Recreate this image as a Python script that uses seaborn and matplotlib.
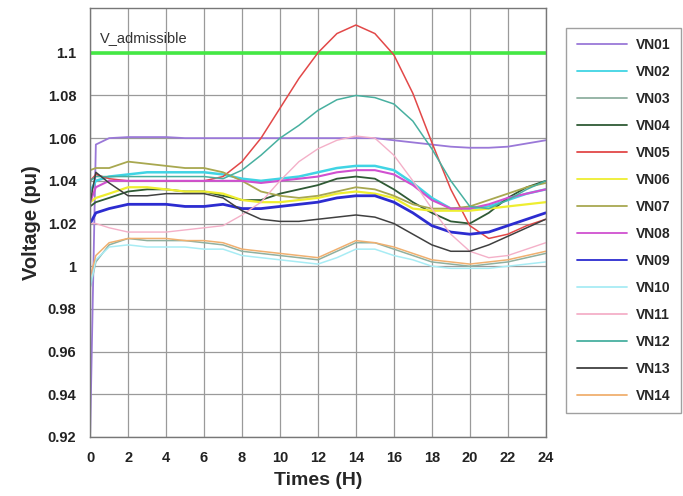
import numpy as np
import pandas as pd
import matplotlib
matplotlib.use("Agg")
import matplotlib.pyplot as plt
import seaborn as sns

# hours of the day
hours = [0, 0.3, 1, 2, 3, 4, 5, 6, 7, 8, 9, 10, 11, 12, 13, 14, 15, 16, 17, 18, 19, 20, 21, 22, 23, 24]

# node voltages (pu)
VN01 = [0.922, 1.057, 1.060, 1.0605, 1.0605, 1.0605, 1.060, 1.060, 1.060, 1.060, 1.060, 1.060, 1.060, 1.060, 1.060, 1.060, 1.060, 1.059, 1.058, 1.057, 1.056, 1.0555, 1.0555, 1.056, 1.0575, 1.059]
VN02 = [1.035, 1.040, 1.042, 1.043, 1.044, 1.044, 1.044, 1.044, 1.043, 1.041, 1.040, 1.041, 1.042, 1.044, 1.046, 1.047, 1.047, 1.045, 1.039, 1.032, 1.027, 1.027, 1.028, 1.031, 1.034, 1.036]
VN03 = [0.990, 1.002, 1.010, 1.013, 1.012, 1.012, 1.012, 1.011, 1.010, 1.007, 1.006, 1.005, 1.004, 1.003, 1.007, 1.011, 1.011, 1.008, 1.005, 1.002, 1.001, 1.000, 1.001, 1.002, 1.004, 1.006]
VN04 = [1.028, 1.030, 1.032, 1.035, 1.036, 1.036, 1.035, 1.035, 1.033, 1.031, 1.031, 1.034, 1.036, 1.038, 1.041, 1.042, 1.041, 1.036, 1.030, 1.025, 1.021, 1.020, 1.025, 1.032, 1.037, 1.040]
VN05 = [1.040, 1.043, 1.041, 1.040, 1.040, 1.040, 1.040, 1.040, 1.042, 1.049, 1.060, 1.074, 1.088, 1.100, 1.109, 1.113, 1.109, 1.099, 1.081, 1.058, 1.036, 1.019, 1.013, 1.015, 1.019, 1.022]
VN06 = [1.030, 1.032, 1.034, 1.037, 1.037, 1.036, 1.035, 1.035, 1.034, 1.031, 1.030, 1.030, 1.031, 1.032, 1.034, 1.035, 1.034, 1.032, 1.027, 1.026, 1.026, 1.026, 1.027, 1.028, 1.029, 1.030]
VN07 = [1.045, 1.046, 1.046, 1.049, 1.048, 1.047, 1.046, 1.046, 1.044, 1.040, 1.035, 1.033, 1.032, 1.033, 1.035, 1.037, 1.036, 1.033, 1.029, 1.027, 1.027, 1.028, 1.031, 1.034, 1.037, 1.039]
VN08 = [1.030, 1.037, 1.040, 1.040, 1.040, 1.040, 1.040, 1.040, 1.040, 1.040, 1.039, 1.040, 1.041, 1.042, 1.044, 1.045, 1.045, 1.043, 1.038, 1.031, 1.027, 1.027, 1.029, 1.032, 1.034, 1.036]
VN09 = [1.020, 1.025, 1.027, 1.029, 1.029, 1.029, 1.028, 1.028, 1.029, 1.027, 1.027, 1.028, 1.029, 1.030, 1.032, 1.033, 1.033, 1.030, 1.025, 1.019, 1.016, 1.015, 1.016, 1.019, 1.022, 1.025]
VN10 = [0.990, 1.003, 1.009, 1.010, 1.009, 1.009, 1.009, 1.008, 1.008, 1.005, 1.004, 1.003, 1.002, 1.001, 1.004, 1.008, 1.008, 1.005, 1.003, 1.000, 0.999, 0.999, 0.999, 1.000, 1.001, 1.002]
VN11 = [1.020, 1.020, 1.018, 1.016, 1.016, 1.016, 1.017, 1.018, 1.019, 1.024, 1.030, 1.040, 1.049, 1.055, 1.059, 1.061, 1.060, 1.052, 1.040, 1.027, 1.015, 1.007, 1.004, 1.005, 1.008, 1.011]
VN12 = [1.040, 1.042, 1.042, 1.042, 1.042, 1.042, 1.042, 1.042, 1.041, 1.045, 1.052, 1.060, 1.066, 1.073, 1.078, 1.080, 1.079, 1.076, 1.068, 1.055, 1.040, 1.028, 1.027, 1.031, 1.036, 1.040]
VN13 = [1.030, 1.044, 1.039, 1.033, 1.033, 1.034, 1.034, 1.034, 1.032, 1.026, 1.022, 1.021, 1.021, 1.022, 1.023, 1.024, 1.023, 1.020, 1.015, 1.010, 1.007, 1.007, 1.010, 1.014, 1.018, 1.022]
VN14 = [0.995, 1.005, 1.011, 1.013, 1.013, 1.013, 1.012, 1.012, 1.011, 1.008, 1.007, 1.006, 1.005, 1.004, 1.008, 1.012, 1.011, 1.009, 1.006, 1.003, 1.002, 1.001, 1.002, 1.003, 1.005, 1.007]

node_names = ["VN01", "VN02", "VN03", "VN04", "VN05", "VN06", "VN07",
              "VN08", "VN09", "VN10", "VN11", "VN12", "VN13", "VN14"]
node_values = [VN01, VN02, VN03, VN04, VN05, VN06, VN07,
               VN08, VN09, VN10, VN11, VN12, VN13, VN14]
node_colors = ["#9a78d8", "#40d4e4", "#8fb0a0", "#2f5a35", "#e24848", "#eeee30", "#a8a850",
               "#d050d0", "#2c2cd0", "#a8ecf4", "#f4b0c8", "#48b0a0", "#404040", "#f0b070"]
line_widths = [1.3, 1.8, 1.1, 1.3, 1.1, 1.6, 1.3, 1.5, 2.0, 1.1, 1.0, 1.1, 1.1, 1.1]

v_admissible = 1.1

# long format table for seaborn
df = pd.DataFrame({
    "Hour": hours * len(node_names),
    "Voltage": [v for vals in node_values for v in vals],
    "Node": [n for n in node_names for _ in hours],
})

sns.set_theme(style="whitegrid")
plt.rcParams["font.family"] = ["Liberation Sans", "DejaVu Sans"]

fig = plt.figure(figsize=(6.83, 4.96), dpi=100)
ax = fig.add_axes([0.132, 0.119, 0.667, 0.865])

ax.axhline(v_admissible, color="#44e844", linewidth=2.6, zorder=1)

sns.lineplot(data=df, x="Hour", y="Voltage", hue="Node",
             palette=dict(zip(node_names, node_colors)), ax=ax,
             legend=False, estimator=None, sort=False)
for line, lw in zip(ax.lines[1:], line_widths):
    line.set_linewidth(lw)

ax.text(0.022, 0.93, "V_admissible", transform=ax.transAxes,
        fontsize=10.5, color="#333333", va="center")

ax.set_xlim(0, 24)
ax.set_ylim(0.92, 1.121)
ax.set_xticks(np.arange(0, 25, 2))
ax.set_yticks([0.92, 0.94, 0.96, 0.98, 1.0, 1.02, 1.04, 1.06, 1.08, 1.1])
ax.set_yticklabels(["0.92", "0.94", "0.96", "0.98", "1", "1.02", "1.04", "1.06", "1.08", "1.1"])
ax.tick_params(labelsize=10.5, pad=4, colors="#222222")
for lab in ax.get_xticklabels() + ax.get_yticklabels():
    lab.set_fontweight("bold")
ax.set_xlabel("Times (H)", fontsize=14, fontweight="bold", labelpad=5)
ax.set_ylabel("Voltage (pu)", fontsize=14.5, fontweight="bold", labelpad=5)

ax.grid(True, color="#9a9a9a", linewidth=0.9)
for s in ax.spines.values():
    s.set_color("#777777")
    s.set_linewidth(1.0)

handles = [plt.Line2D([], [], color=c, linewidth=1.3) for c in node_colors]
leg = fig.legend(handles, node_names, loc="upper left",
                 bbox_to_anchor=(0.829, 0.944), bbox_transform=fig.transFigure,
                 frameon=True, fancybox=False, handlelength=3.6,
                 labelspacing=0.935, borderpad=0.75, handletextpad=0.7,
                 borderaxespad=0, prop={"weight": "bold", "size": 10})
leg.get_frame().set_edgecolor("#888888")
leg.get_frame().set_linewidth(1.0)

fig.savefig("out.png", dpi=100)
